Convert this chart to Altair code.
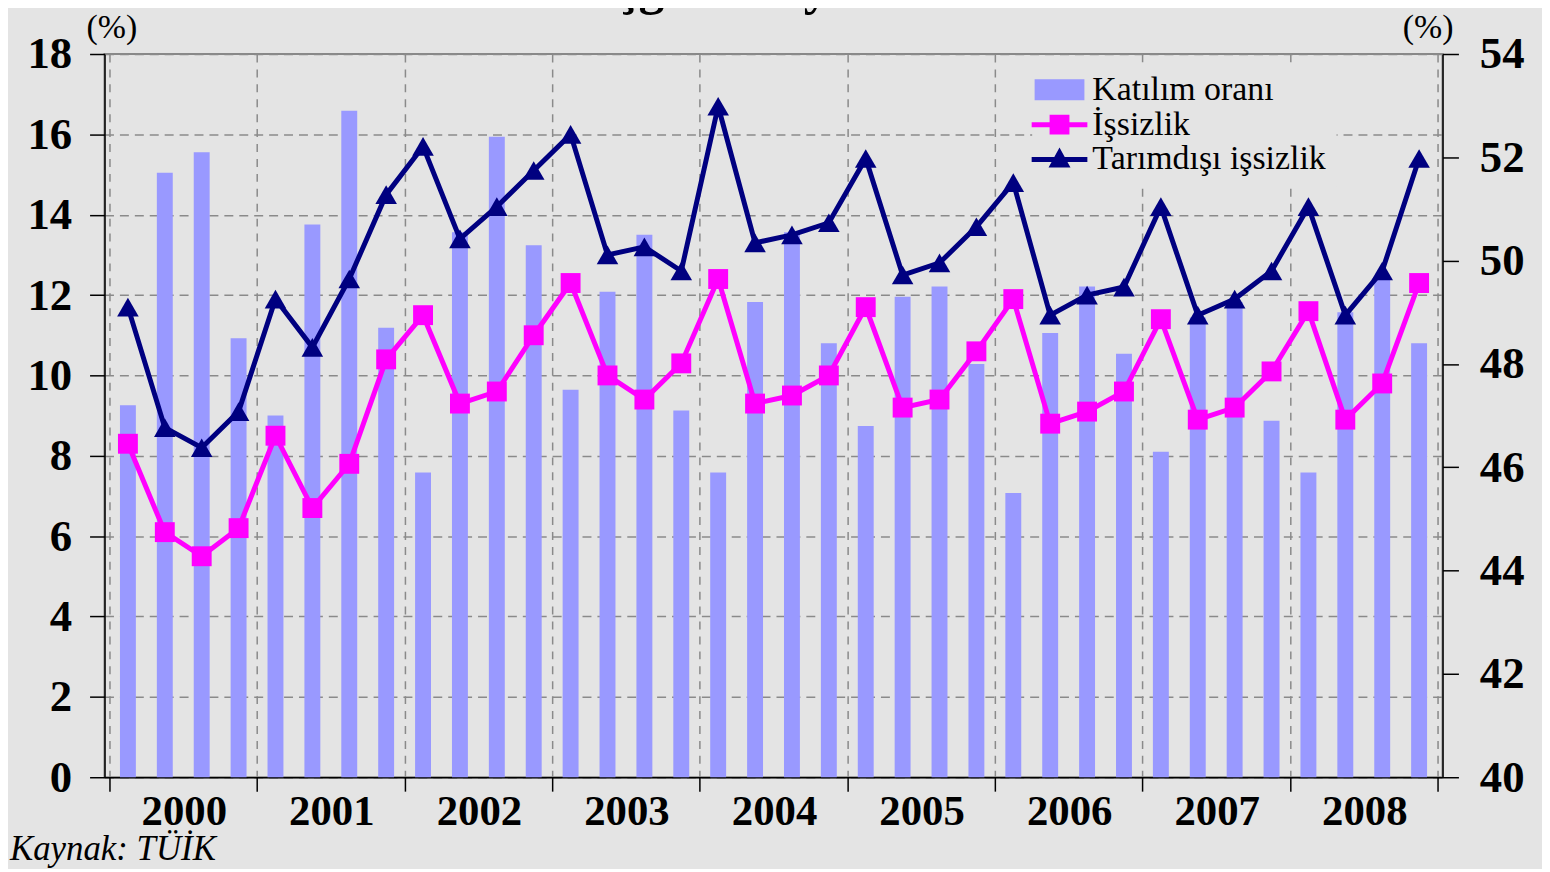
import altair as alt
import pandas as pd

# ---- data ----
years = ["2000", "2001", "2002", "2003", "2004", "2005", "2006", "2007", "2008"]
quarters = [f"{y}-Ç{k}" for y in years for k in range(1, 5)]

katilim = [47.2, 51.7, 52.1, 48.5, 47.0, 50.7, 52.9, 48.7, 45.9, 50.55, 52.4, 50.3,
           47.5, 49.4, 50.5, 47.1, 45.9, 49.2, 50.55, 48.4, 46.8, 49.3, 49.5, 48.0,
           45.5, 48.6, 49.5, 48.2, 46.3, 48.9, 49.2, 46.9, 45.9, 49.0, 49.7, 48.4]
issizlik = [8.3, 6.1, 5.5, 6.2, 8.5, 6.7, 7.8, 10.4, 11.5, 9.3, 9.6, 11.0,
            12.3, 10.0, 9.4, 10.3, 12.4, 9.3, 9.5, 10.0, 11.7, 9.2, 9.4, 10.6,
            11.9, 8.8, 9.1, 9.6, 11.4, 8.9, 9.2, 10.1, 11.6, 8.9, 9.8, 12.3]
tarimdisi = [11.7, 8.7, 8.2, 9.1, 11.9, 10.7, 12.4, 14.5, 15.7, 13.4, 14.2, 15.1,
             16.0, 13.0, 13.2, 12.6, 16.7, 13.3, 13.5, 13.8, 15.4, 12.5, 12.8, 13.7,
             14.8, 11.5, 12.0, 12.2, 14.2, 11.5, 11.9, 12.6, 14.2, 11.5, 12.6, 15.4]

series_names = ["Katılım oranı", "İşsizlik", "Tarımdışı işsizlik"]
series_colors = ["#9999FF", "#FF00FF", "#000080"]
title_text = "İşgücü Piyasası"
source_text = "Kaynak: TÜİK"
unit_text = "(%)"

# ---- tables ----
n = len(quarters)
bars_df = pd.DataFrame({"quarter": quarters, "q": [i + 0.5 for i in range(n)], "katilim": katilim})
lines_df = pd.DataFrame({
    "quarter": quarters * 2,
    "q": [i + 0.5 for i in range(n)] * 2,
    "series": [series_names[1]] * n + [series_names[2]] * n,
    "value": issizlik + tarimdisi,
})
legend_df = pd.DataFrame({"series": series_names})

BG = "#E4E4E4"
FONT = "Liberation Serif"
GRID = "#8a8a8a"

year_array = "[" + ",".join(f"'{y}'" for y in years) + "]"
x_axis = alt.Axis(
    values=list(range(0, 4 * len(years) + 1, 4)),
    labelExpr=f"{year_array}[datum.value / 4] || ''",
    labelOffset=74.7, labelFlush=False, labelOverlap=False,
    labelFont=FONT, labelFontWeight="bold", labelFontSize=43, labelColor="black",
    labelPadding=0, tickSize=14, tickColor="black", tickWidth=1.5,
    domainColor="black", domainWidth=1.5,
    grid=True, gridColor=GRID, gridDash=[8, 7], gridWidth=1.5,
    title=None,
)
X = alt.X("q:Q", scale=alt.Scale(domain=[0, n], nice=False, zero=False), axis=x_axis)

left_axis = alt.Axis(
    orient="left", values=list(range(0, 19, 2)),
    labelFont=FONT, labelFontWeight="bold", labelFontSize=45, labelColor="black",
    labelPadding=18, tickSize=15, tickColor="black", tickWidth=1.5,
    domainColor="black", domainWidth=1.5,
    grid=True, gridColor=GRID, gridDash=[9, 6], gridWidth=1.5,
    title=unit_text, titleAngle=0, titleX=7, titleY=-17, titleAlign="center",
    titleBaseline="alphabetic", titleFont=FONT, titleFontWeight="normal",
    titleFontSize=34, titleColor="black",
)
right_axis = alt.Axis(
    orient="right", values=list(range(40, 55, 2)),
    labelFont=FONT, labelFontWeight="bold", labelFontSize=45, labelColor="black",
    labelPadding=21, tickSize=16, tickColor="black", tickWidth=1.5,
    domainColor="black", domainWidth=1.5, grid=False,
    title=unit_text, titleAngle=0, titleX=-15, titleY=-17, titleAlign="center",
    titleBaseline="alphabetic", titleFont=FONT, titleFontWeight="normal",
    titleFontSize=34, titleColor="black",
)

bars = alt.Chart(bars_df).mark_bar(size=16, color=series_colors[0]).encode(
    x=X,
    y=alt.Y("katilim:Q", scale=alt.Scale(domain=[40, 54], zero=False, nice=False), axis=right_axis),
    y2=alt.datum(40),
)

Y_left = alt.Y("value:Q", scale=alt.Scale(domain=[0, 18], nice=False, zero=True), axis=left_axis)

def series_layers(name, color, shape, size):
    base = alt.Chart(lines_df).transform_filter(alt.datum.series == name)
    ln = base.mark_line(color=color, strokeWidth=5).encode(x=X, y=Y_left)
    pt = base.mark_point(shape=shape, filled=True, size=size, color=color, opacity=1).encode(x=X, y=Y_left)
    return [ln, pt]

legend_paths = [
    "M-1.43,-0.6H1.43V0.6H-1.43Z",
    "M-1.6,-0.143H1.6V0.143H-1.6Z M-0.57,-0.57H0.57V0.57H-0.57Z",
    "M-1.6,-0.143H1.6V0.143H-1.6Z M0,-0.69L0.63,0.46H-0.63Z",
]
leg = alt.Legend(
    title=None, orient="none", legendX=932.5, legendY=8.5,
    symbolSize=1225, symbolStrokeWidth=0, symbolOpacity=1,
    labelFont=FONT, labelFontSize=34, labelColor="black", labelOffset=15.5,
    labelLimit=500, rowPadding=0, padding=10, fillColor=BG,
)
legend_layer = alt.Chart(legend_df).transform_filter("false").mark_point(filled=True).encode(
    color=alt.Color("series:N", scale=alt.Scale(domain=series_names, range=series_colors), legend=leg),
    shape=alt.Shape("series:N", scale=alt.Scale(domain=series_names, range=legend_paths), legend=leg),
)

title_layer = alt.Chart(pd.DataFrame({"t": [title_text]})).mark_text(
    font=FONT, fontWeight="bold", fontSize=52, align="center", baseline="alphabetic", color="black"
).encode(text="t:N", x=alt.value(666), y=alt.value(-50))

source_layer = alt.Chart(pd.DataFrame({"t": [source_text]})).mark_text(
    font=FONT, fontStyle="italic", fontSize=35, align="left", baseline="alphabetic", color="black"
).encode(text="t:N", x=alt.value(-95), y=alt.value(810))

left_layer = alt.layer(
    *series_layers(series_names[1], series_colors[1], "square", 400),
    *series_layers(series_names[2], series_colors[2], "triangle-up", 470),
    legend_layer, title_layer, source_layer,
)

chart = alt.layer(bars, left_layer).resolve_scale(y="independent").properties(
    width=1345, height=727,
    padding={"left": 97, "top": 44, "right": 100, "bottom": 90},
    autosize=alt.AutoSizeParams(type="none"),
).configure(background=BG).configure_view(stroke="#888888", strokeWidth=2)

chart.save("out.html", embed_options={"renderer": "svg", "actions": False})
